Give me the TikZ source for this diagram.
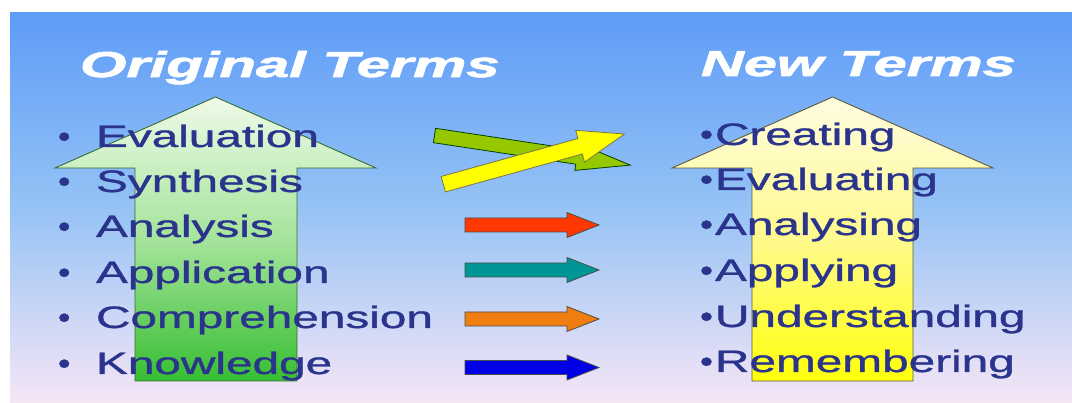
\documentclass[tikz,border=0pt]{standalone}
\usepackage{fontspec}
\setmainfont{Liberation Sans}
\newfontfamily\termfont{Liberation Sans}[FakeBold=0.9]
\newfontfamily\headfont{Liberation Sans}[FakeBold=1.6]

% horizontally widened text
\newcommand\stretchtxt[2][1.54]{\scalebox{#1}[1]{#2}}

% block arrow: style, x, y, angle, length, shaft width, head length, head width
\newcommand\blockarrow[8]{%
  \begin{scope}[shift={(#2,#3)}, rotate=#4]
    \path[#1] (0,-#6/2) -- (#5-#7,-#6/2) -- (#5-#7,-#8/2) -- (#5,0)
      -- (#5-#7,#8/2) -- (#5-#7,#6/2) -- (0,#6/2) -- cycle;
  \end{scope}}

\definecolor{bgtop}{RGB}{94,156,248}
\definecolor{bgmid}{RGB}{150,195,245}
\definecolor{bgbot}{RGB}{246,230,246}
\definecolor{termblue}{RGB}{42,52,140}
\definecolor{gtop}{RGB}{238,250,232}
\definecolor{gmid}{RGB}{165,228,155}
\definecolor{gbot}{RGB}{55,190,50}
\definecolor{gedge}{RGB}{50,110,50}
\definecolor{ytop}{RGB}{255,252,225}
\definecolor{ymid}{RGB}{255,250,140}
\definecolor{ybot}{RGB}{255,255,10}
\definecolor{yedge}{RGB}{90,90,60}
\definecolor{redarrow}{RGB}{255,55,0}
\definecolor{tealarrow}{RGB}{0,150,150}
\definecolor{orangearrow}{RGB}{240,125,15}
\definecolor{bluearrow}{RGB}{0,0,230}
\definecolor{limearrow}{RGB}{150,200,0}
\definecolor{yellowarrow}{RGB}{255,255,0}

\begin{document}
\begin{tikzpicture}[x=1pt,y=-1pt,
  term/.style={anchor=base west, inner sep=0, outer sep=0, text=termblue,
    font=\termfont\fontsize{31}{31}\selectfont},
  heading/.style={anchor=base west, inner sep=0, outer sep=0, text=white,
    font=\headfont\fontsize{36}{36}\selectfont\bfseries\itshape},
  smallarrow/.style={fill=#1, draw=black!70, line width=0.8pt, line join=miter},
  bigarrow/.style={line width=0.9pt, line join=miter}]

  \useasboundingbox (0,0) rectangle (1072,403);
  \fill[white] (0,0) rectangle (1072,403);

  % slide background
  \shade[top color=bgtop, bottom color=bgbot, middle color=bgmid]
    (10,13) rectangle (1072,403);

  % large upward arrows
  \shade[bigarrow, draw=gedge, top color=gtop, bottom color=gbot, middle color=gmid]
    (135,381) -- (135,168) -- (55,168) -- (215.5,97) -- (376,168)
    -- (297,168) -- (297,381) -- cycle;
  \shade[bigarrow, draw=yedge, top color=ytop, bottom color=ybot, middle color=ymid]
    (752,381) -- (752,168) -- (672,168) -- (832.5,97) -- (993,168)
    -- (913,168) -- (913,381) -- cycle;

  % headings
  \node[heading] (hold) at (80,77) {\stretchtxt[1.66]{Original Terms}};
  \node[heading] (hnew) at (701,76) {\stretchtxt[1.65]{New Terms}};

  % crossing arrows
  \blockarrow{smallarrow=limearrow, draw=black!75!green}{434.5}{135.5}{-8.6}{198}{14.5}{54}{27}
  \blockarrow{smallarrow=yellowarrow, draw=black!60!yellow}{443.3}{184.2}{15.5}{188}{16}{46}{33}

  % straight arrows
  \blockarrow{smallarrow=redarrow}{465}{225}{0}{134}{14}{32}{25}
  \blockarrow{smallarrow=tealarrow}{465}{270}{0}{134}{14}{32}{25}
  \blockarrow{smallarrow=orangearrow}{465}{319}{0}{134}{14}{32}{25}
  \blockarrow{smallarrow=bluearrow}{465}{367.5}{0}{134}{14}{32}{25}

  % original terms
  \foreach \y/\t [count=\i] in {147/Evaluation, 192/Synthesis, 237/Analysis,
      283/Application, 328/Comprehension, 374/Knowledge} {
    \node[term] (ob\i) at (58,\y) {\stretchtxt[1.15]{•}};
    \node[term] (ot\i) at (96,\y) {\stretchtxt{\t}};
  }

  % new terms
  \foreach \y/\t [count=\i] in {145/Creating, 190/Evaluating, 235/Analysing,
      281/Applying, 327/Understanding, 372/Remembering} {
    \node[term] (nb\i) at (700,\y) {\stretchtxt[1.2]{•}};
    \node[term] (nt\i) at (715,\y) {\stretchtxt{\t}};
  }
\end{tikzpicture}
\end{document}
